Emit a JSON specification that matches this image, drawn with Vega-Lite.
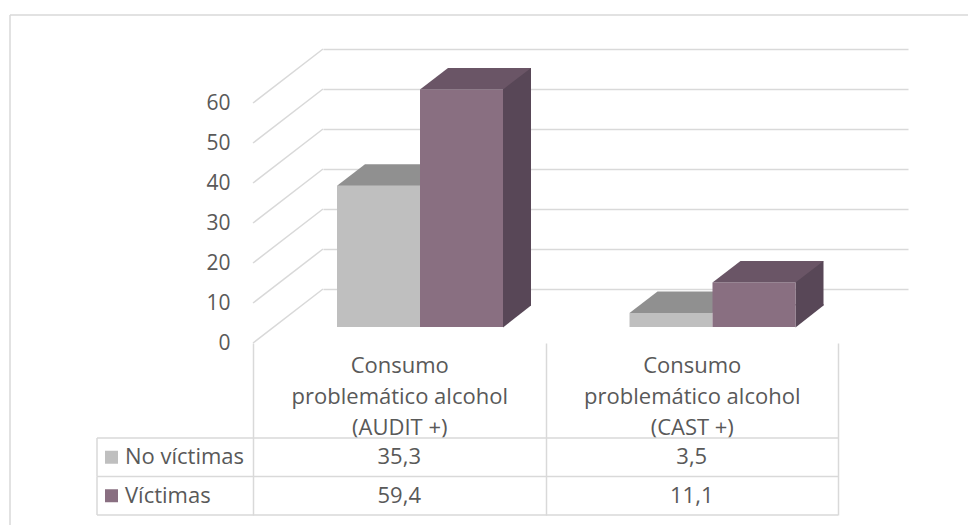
{
  "$schema": "https://vega.github.io/schema/vega-lite/v6.json",
  "width": 585,
  "height": 466,
  "autosize": {"type": "none"},
  "padding": {"left": 323, "top": 49, "right": 60, "bottom": 10},
  "background": "white",
  "config": {
    "view": {"stroke": null},
    "font": "Open Sans",
    "locale": {"number": {"decimal": ",", "thousands": ".", "grouping": [3], "currency": ["", " €"]}},
    "scale": {"bandPaddingInner": 0, "bandPaddingOuter": 0, "barBandPaddingInner": 0, "rectBandPaddingInner": 0}
  },
  "datasets": {
    "datos": [
      {"categoria": "Consumo problemático alcohol (AUDIT +)", "serie": "No víctimas", "valor": 35.3},
      {"categoria": "Consumo problemático alcohol (AUDIT +)", "serie": "Víctimas", "valor": 59.4},
      {"categoria": "Consumo problemático alcohol (CAST +)", "serie": "No víctimas", "valor": 3.5},
      {"categoria": "Consumo problemático alcohol (CAST +)", "serie": "Víctimas", "valor": 11.1}
    ],
    "marcas": [{"v": 0}, {"v": 10}, {"v": 20}, {"v": 30}, {"v": 40}, {"v": 50}, {"v": 60}],
    "marco": [{"elemento": "marco"}]
  },
  "resolve": {"scale": {"y": "independent"}, "axis": {"y": "independent"}},
  "layer": [
    {
      "layer": [
        {
          "data": {"name": "datos"},
          "transform": [{"filter": "datum.serie === 'No víctimas'"}],
          "mark": {"type": "bar", "color": "#bfbfbf", "width": 83, "xOffset": -90.75, "yOffset": 38, "y2Offset": 38},
          "encoding": {
            "x": {
              "field": "categoria", "type": "nominal",
              "scale": {"domain": ["Consumo problemático alcohol (AUDIT +)", "Consumo problemático alcohol (CAST +)"], "paddingInner": 0, "paddingOuter": 0},
              "axis": {
                "orient": "bottom", "offset": -172, "position": -70, "domain": false, "grid": false,
                "ticks": true, "tickBand": "extent", "tickSize": 172,
                "tickColor": "#d9d9d9", "tickWidth": 1.5,
                "labelAngle": 0,
                "labelExpr": "[slice(datum.label, 0, 7), slice(datum.label, 8, 28), slice(datum.label, 29)]",
                "labelLineHeight": 31, "labelBaseline": "middle", "labelPadding": -150,
                "labelFontSize": 22, "labelColor": "#595959", "labelFont": "Open Sans", "labelLimit": 0,
                "title": null
              }
            },
            "y": {
              "field": "valor", "type": "quantitative",
              "scale": {"domain": [-56.5, 60], "nice": false, "zero": false},
              "axis": {
                "values": [0, 10, 20, 30, 40, 50, 60], "grid": true, "gridColor": "#d9d9d9", "gridWidth": 1.5,
                "domain": false, "ticks": false, "tickSize": 0, "labelPadding": 93, "labelOffset": 54,
                "labelFontSize": 21, "labelColor": "#595959", "labelFont": "Open Sans", "title": null
              }
            },
            "y2": {"datum": 0}
          }
        },
        {
          "data": {"name": "marcas"},
          "mark": {"type": "rule", "color": "#d9d9d9", "strokeWidth": 1.5, "xOffset": -216.25, "x2Offset": -146.25, "yOffset": 54},
          "encoding": {
            "x": {"datum": "Consumo problemático alcohol (AUDIT +)", "type": "nominal"},
            "x2": {"datum": "Consumo problemático alcohol (AUDIT +)"},
            "y": {"field": "v", "type": "quantitative"},
            "y2": {"field": "v"}
          }
        },
        {
          "data": {"name": "marco"},
          "mark": {"type": "rule", "color": "#d9d9d9", "strokeWidth": 1.5, "xOffset": -459.25, "x2Offset": 216.25, "yOffset": -34},
          "encoding": {
            "x": {"datum": "Consumo problemático alcohol (AUDIT +)", "type": "nominal"},
            "x2": {"datum": "Consumo problemático alcohol (CAST +)"},
            "y": {"datum": 60, "type": "quantitative"}
          }
        },
        {
          "data": {"name": "marco"},
          "mark": {"type": "rule", "color": "#d9d9d9", "strokeWidth": 1.5, "xOffset": -459.25, "yOffset": -34, "y2Offset": 20},
          "encoding": {
            "x": {"datum": "Consumo problemático alcohol (AUDIT +)", "type": "nominal"},
            "y": {"datum": 60, "type": "quantitative"},
            "y2": {"datum": -56.5}
          }
        },
        {
          "data": {"name": "datos"},
          "transform": [{"filter": "datum.serie === 'No víctimas'"}],
          "mark": {"type": "point", "shape": "M-41.5,0L41.5,0L69.5,-21.5L-13.5,-21.5Z", "size": 4, "filled": true, "opacity": 1, "color": "#909090", "strokeWidth": 0, "xOffset": -90.75, "yOffset": 38},
          "encoding": {
            "x": {"field": "categoria", "type": "nominal"},
            "y": {"field": "valor", "type": "quantitative"}
          }
        },
        {
          "data": {"name": "datos"},
          "transform": [{"filter": "datum.serie === 'Víctimas'"}],
          "mark": {"type": "bar", "color": "#584757", "width": 28, "xOffset": 47.75, "yOffset": 16.5, "y2Offset": 16.5},
          "encoding": {
            "x": {"field": "categoria", "type": "nominal"},
            "y": {"field": "valor", "type": "quantitative"},
            "y2": {"datum": 0}
          }
        },
        {
          "data": {"name": "datos"},
          "transform": [{"filter": "datum.serie === 'Víctimas'"}],
          "mark": {"type": "point", "shape": "M41.5,0.5L41.5,-23L69.5,-23L69.5,-21.5Z", "size": 4, "filled": true, "opacity": 1, "color": "#584757", "strokeWidth": 0, "xOffset": -7.75, "yOffset": 38},
          "encoding": {
            "x": {"field": "categoria", "type": "nominal"},
            "y": {"datum": 0, "type": "quantitative"}
          }
        },
        {
          "data": {"name": "datos"},
          "transform": [{"filter": "datum.serie === 'Víctimas'"}],
          "mark": {"type": "bar", "color": "#896f81", "width": 83, "xOffset": -7.75, "yOffset": 38, "y2Offset": 38},
          "encoding": {
            "x": {"field": "categoria", "type": "nominal"},
            "y": {"field": "valor", "type": "quantitative"},
            "y2": {"datum": 0}
          }
        },
        {
          "data": {"name": "datos"},
          "transform": [{"filter": "datum.serie === 'Víctimas'"}],
          "mark": {"type": "point", "shape": "M-41.5,0L41.5,0L69.5,-21.5L-13.5,-21.5Z", "size": 4, "filled": true, "opacity": 1, "color": "#6a5566", "strokeWidth": 0, "xOffset": -7.75, "yOffset": 38},
          "encoding": {
            "x": {"field": "categoria", "type": "nominal"},
            "y": {"field": "valor", "type": "quantitative"}
          }
        }
      ]
    },
    {
      "data": {"name": "datos"},
      "encoding": {
        "y": {
          "field": "serie", "type": "nominal",
          "scale": {"domain": ["No víctimas", "Víctimas"], "range": [389, 466], "paddingInner": 0, "paddingOuter": 0},
          "axis": null
        }
      },
      "layer": [
        {
          "transform": [{"filter": "datum.categoria === 'Consumo problemático alcohol (AUDIT +)'"}],
          "mark": {"type": "rule", "color": "#d9d9d9", "strokeWidth": 1.5, "xOffset": -372.25, "x2Offset": 76.25},
          "encoding": {
            "x": {"field": "categoria", "type": "nominal"},
            "x2": {"datum": "Consumo problemático alcohol (CAST +)"},
            "y": {"field": "serie", "type": "nominal", "bandPosition": 0}
          }
        },
        {
          "transform": [{"filter": "datum.categoria === 'Consumo problemático alcohol (AUDIT +)' && datum.serie === 'Víctimas'"}],
          "mark": {"type": "rule", "color": "#d9d9d9", "strokeWidth": 1.5, "xOffset": -372.25, "x2Offset": 76.25},
          "encoding": {
            "x": {"field": "categoria", "type": "nominal"},
            "x2": {"datum": "Consumo problemático alcohol (CAST +)"},
            "y": {"field": "serie", "type": "nominal", "bandPosition": 1}
          }
        },
        {
          "transform": [{"filter": "datum.categoria === 'Consumo problemático alcohol (AUDIT +)'"}],
          "mark": {"type": "tick", "color": "#d9d9d9", "orient": "vertical", "size": 38.5, "thickness": 1.5, "opacity": 1, "xOffset": -372.25},
          "encoding": {
            "x": {"field": "categoria", "type": "nominal"}
          }
        },
        {
          "transform": [{"filter": "datum.categoria === 'Consumo problemático alcohol (AUDIT +)'"}],
          "mark": {"type": "point", "shape": "square", "size": 169, "filled": true, "opacity": 1, "strokeWidth": 0, "xOffset": -357.75},
          "encoding": {
            "x": {"field": "categoria", "type": "nominal"},
            "color": {"field": "serie", "type": "nominal", "scale": {"domain": ["No víctimas", "Víctimas"], "range": ["#bfbfbf", "#896f81"]}, "legend": null}
          }
        },
        {
          "transform": [{"filter": "datum.categoria === 'Consumo problemático alcohol (AUDIT +)'"}],
          "mark": {"type": "text", "align": "left", "baseline": "middle", "fontSize": 22, "font": "Open Sans", "color": "#595959", "xOffset": -344.25},
          "encoding": {
            "x": {"field": "categoria", "type": "nominal"},
            "text": {"field": "serie", "type": "nominal"}
          }
        },
        {
          "mark": {"type": "text", "align": "center", "baseline": "middle", "fontSize": 22, "font": "Open Sans", "color": "#595959", "xOffset": -70},
          "encoding": {
            "x": {"field": "categoria", "type": "nominal"},
            "text": {"field": "valor", "type": "quantitative", "format": ".1f"}
          }
        }
      ]
    }
  ]
}
